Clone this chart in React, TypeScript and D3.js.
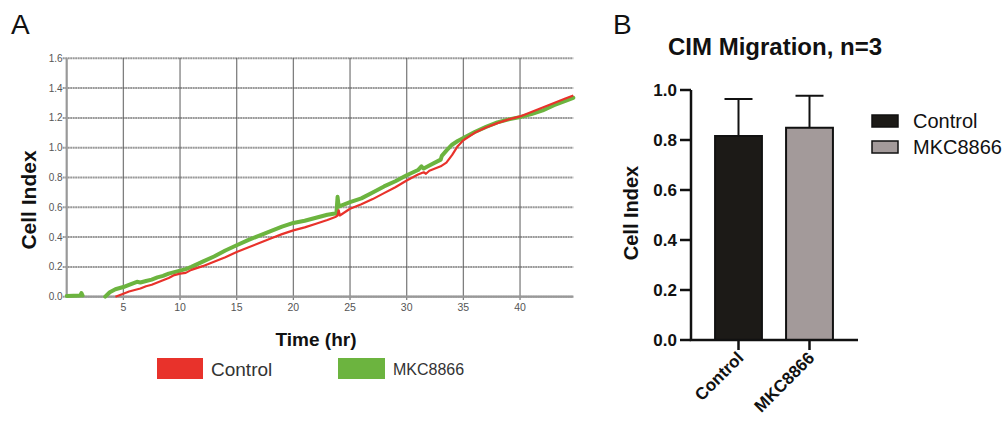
import React from "react";
import * as d3 from "d3";

// ---------- Panel A data (xCELLigence trace) ----------
const controlTime = [4.3, 5, 5.5, 6, 6.5, 7, 7.5, 8, 8.5, 9, 9.5, 10, 10.5, 11, 12, 13, 14, 15, 16, 17, 18, 19, 20, 21, 22, 23, 23.7, 23.9, 24.0, 24.1, 24.5, 25, 26, 27, 28, 29, 30, 31, 31.5, 31.7, 32, 33, 33.5, 34, 34.5, 35, 36, 37, 38, 39, 40, 41, 42, 43, 44, 44.7];
const controlValue = [0.0, 0.02, 0.035, 0.045, 0.055, 0.07, 0.08, 0.095, 0.11, 0.125, 0.145, 0.155, 0.16, 0.18, 0.205, 0.235, 0.265, 0.3, 0.33, 0.36, 0.39, 0.42, 0.445, 0.465, 0.49, 0.515, 0.535, 0.545, 0.58, 0.545, 0.565, 0.59, 0.62, 0.655, 0.695, 0.735, 0.78, 0.82, 0.835, 0.825, 0.845, 0.875, 0.9, 0.95, 1.01, 1.05, 1.1, 1.135, 1.165, 1.19, 1.21, 1.24, 1.27, 1.3, 1.33, 1.35];

const mkcTime = [0, 1.2, 1.3, 1.4, 1.5, 3.4, 3.8, 4.3, 5, 5.5, 6.2, 6.5, 7, 7.5, 8, 8.5, 9, 10, 10.5, 11, 12, 13, 14, 15, 16, 17, 18, 19, 20, 21, 22, 23, 23.8, 23.9, 24.0, 24.5, 25, 26, 27, 28, 29, 30, 31, 31.3, 31.5, 32, 33, 33.1, 33.5, 34, 34.5, 35, 36, 37, 38, 39, 40, 41, 42, 43, 44, 44.7];
const mkcValue: (number | null)[] = [0.005, 0.008, 0.025, 0.008, null, 0.0, 0.03, 0.05, 0.065, 0.08, 0.1, 0.095, 0.105, 0.115, 0.13, 0.14, 0.155, 0.175, 0.185, 0.2, 0.235, 0.27, 0.31, 0.345, 0.38, 0.41, 0.44, 0.47, 0.495, 0.51, 0.53, 0.55, 0.56, 0.67, 0.605, 0.62, 0.635, 0.66, 0.7, 0.74, 0.775, 0.815, 0.85, 0.875, 0.86, 0.88, 0.92, 0.945, 0.98, 1.02, 1.045, 1.065, 1.105, 1.14, 1.17, 1.19, 1.205, 1.225, 1.25, 1.285, 1.315, 1.335];

const aYTicks = [0, 0.2, 0.4, 0.6, 0.8, 1.0, 1.2, 1.4, 1.6];
const aXTicks = [5, 10, 15, 20, 25, 30, 35, 40];

// ---------- Panel B data ----------
const groups = ["Control", "MKC8866"];
const groupMean = [0.816, 0.849];
const groupSD = [0.148, 0.128];
const bYTicks = [0, 0.2, 0.4, 0.6, 0.8, 1.0];

const RED = "#e8322b";
const GREEN = "#6cb43f";
const BAR_COLORS = ["#1c1a17", "#a39a9a"];

export default function App() {
  // Panel A scales
  const ax = d3.scaleLinear().domain([0, 44.7]).range([66.7, 573.3]);
  const ay = d3.scaleLinear().domain([0, 1.6]).range([296.7, 58.3]);

  const ctrlPts = controlTime.map((t, i) => [t, controlValue[i]] as [number, number | null]);
  const mkcPts = mkcTime.map((t, i) => [t, mkcValue[i]] as [number, number | null]);
  const line = d3
    .line<[number, number | null]>()
    .defined((d) => d[1] !== null)
    .x((d) => ax(d[0]))
    .y((d) => ay(d[1] as number));

  // Panel B scales
  const bx = d3.scaleBand<string>().domain(groups).range([703, 845]).paddingInner(0.34).paddingOuter(0.17);
  const by = d3.scaleLinear().domain([0, 1]).range([340, 90]);

  const [x0, x1] = ax.range();
  const [y0, y1] = ay.range();

  return (
    <svg width={1005} height={427} style={{ position: "absolute", left: 0, top: 0, background: "#fff" }} fontFamily="'Liberation Sans', Arial, sans-serif">
      {/* Panel A */}
      <text x={11} y={34} fontSize={28} fill="#111">A</text>

      {/* horizontal grid */}
      {aYTicks.map((v) => (
        <line key={"h" + v} x1={x0 - 4} x2={x1} y1={ay(v)} y2={ay(v)} stroke="#999" strokeWidth={2} strokeDasharray="2 0.5" />
      ))}
      {/* vertical grid */}
      {aXTicks.map((v) => (
        <line key={"v" + v} x1={ax(v)} x2={ax(v)} y1={y1} y2={y0 + 3} stroke="#555" strokeWidth={1.3} strokeDasharray="1.5 0.5" />
      ))}
      <line x1={x0} x2={x0} y1={y1} y2={y0} stroke="#999" strokeWidth={2.2} />
      <line x1={x0} x2={x1} y1={y0} y2={y0} stroke="#999" strokeWidth={2.2} />

      {aYTicks.map((v) => (
        <text key={"yl" + v} x={x0 - 4} y={ay(v) + 3.5} fontSize={10} fill="#555" textAnchor="end">{v.toFixed(1)}</text>
      ))}
      {aXTicks.map((v) => (
        <text key={"xl" + v} x={ax(v)} y={311} fontSize={10.5} fill="#555" textAnchor="middle">{v}</text>
      ))}

      <path d={line(mkcPts) || ""} fill="none" stroke={GREEN} strokeWidth={4} strokeLinejoin="round" strokeLinecap="round" />
      <path d={line(ctrlPts) || ""} fill="none" stroke={RED} strokeWidth={2.2} strokeLinejoin="round" />

      <text transform="translate(36,200) rotate(-90)" fontSize={21} fontWeight="bold" fill="#111" textAnchor="middle">Cell Index</text>
      <text x={316} y={346} fontSize={19} fontWeight="bold" fill="#111" textAnchor="middle">Time (hr)</text>

      {/* legend A */}
      <rect x={157} y={358} width={46} height={21} fill={RED} />
      <text x={211} y={376} fontSize={19} fill="#333">Control</text>
      <rect x={338} y={358} width={47} height={21} fill={GREEN} />
      <text x={393} y={375} fontSize={16} fill="#333">MKC8866</text>

      {/* Panel B */}
      <text x={613} y={34} fontSize={28} fill="#111">B</text>
      <text x={775} y={55} fontSize={24} fontWeight="bold" fill="#111" textAnchor="middle">CIM Migration, n=3</text>

      {/* error bars */}
      {groups.map((g, i) => {
        const cx = (bx(g) as number) + bx.bandwidth() / 2;
        return (
          <g key={"e" + g}>
            <line x1={cx} x2={cx} y1={by(groupMean[i])} y2={by(groupMean[i] + groupSD[i])} stroke="#111" strokeWidth={2} />
            <line x1={cx - 14} x2={cx + 14} y1={by(groupMean[i] + groupSD[i])} y2={by(groupMean[i] + groupSD[i])} stroke="#111" strokeWidth={2} />
          </g>
        );
      })}
      {/* bars */}
      {groups.map((g, i) => (
        <rect key={"b" + g} x={bx(g)} y={by(groupMean[i])} width={bx.bandwidth()} height={by(0) - by(groupMean[i])} fill={BAR_COLORS[i]} stroke="#111" strokeWidth={2} />
      ))}

      {/* axes B */}
      <line x1={691} x2={691} y1={by(1)} y2={by(0)} stroke="#111" strokeWidth={2.5} />
      <line x1={689.75} x2={858} y1={by(0)} y2={by(0)} stroke="#111" strokeWidth={2.5} />
      {bYTicks.map((v) => (
        <g key={"bt" + v}>
          <line x1={680} x2={691} y1={by(v)} y2={by(v)} stroke="#111" strokeWidth={2.5} />
          <text x={677} y={by(v) + 6} fontSize={17} fontWeight="bold" fill="#111" textAnchor="end">{v.toFixed(1)}</text>
        </g>
      ))}
      {groups.map((g) => {
        const cx = (bx(g) as number) + bx.bandwidth() / 2;
        return (
          <g key={"bx" + g}>
            <line x1={cx} x2={cx} y1={by(0)} y2={by(0) + 10} stroke="#111" strokeWidth={2.5} />
            <text transform={`translate(${cx + 6},${by(0) + 19}) rotate(-45)`} fontSize={17} fontWeight="bold" fill="#111" textAnchor="end">{g}</text>
          </g>
        );
      })}
      <text transform="translate(638,213) rotate(-90)" fontSize={20} fontWeight="bold" fill="#111" textAnchor="middle">Cell Index</text>

      {/* legend B */}
      <rect x={872} y={115} width={26} height={12} fill={BAR_COLORS[0]} stroke="#111" strokeWidth={1.5} />
      <text x={913} y={128} fontSize={20} fill="#111">Control</text>
      <rect x={872} y={141} width={26} height={12} fill={BAR_COLORS[1]} stroke="#111" strokeWidth={1.5} />
      <text x={913} y={154} fontSize={20} fill="#111">MKC8866</text>
    </svg>
  );
}
